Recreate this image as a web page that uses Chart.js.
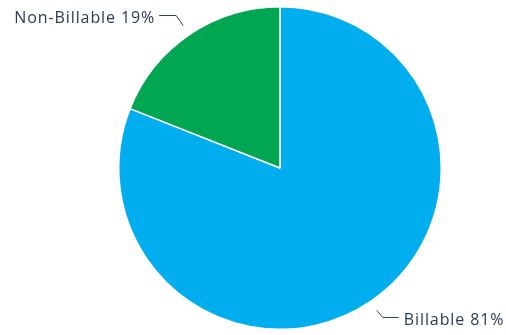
<!DOCTYPE html>
<html lang="en">
<head>
    <meta charset="UTF-8">
    <title>Billable vs Non-Billable</title>
    <script src="https://cdn.jsdelivr.net/npm/chart.js"></script>
    <style>
        body { margin: 0; background: #fff; }
        #wrap { width: 506px; height: 335px; position: relative; }
    </style>
</head>
<body>
    <div id="wrap"><canvas id="pieChart"></canvas></div>
    <script>
        const categories = ['Billable', 'Non-Billable'];
        const values = [81, 19];
        const colors = ['#00aeef', '#00a651'];

        // draws "Name NN%" with a bent leader line next to each slice
        const calloutLabels = {
            id: 'calloutLabels',
            afterDraw(chart) {
                const ctx = chart.ctx;
                const arcs = chart.getDatasetMeta(0).data;
                ctx.save();
                ctx.font = '16px "Open Sans", sans-serif';
                ctx.letterSpacing = '0.9px';
                ctx.fillStyle = '#2b3a57';
                ctx.strokeStyle = '#2b3a57';
                ctx.lineWidth = 1;
                ctx.textBaseline = 'middle';
                arcs.forEach((arc, i) => {
                    const mid = (arc.startAngle + arc.endAngle) / 2;
                    const r = arc.outerRadius + 11;
                    const x0 = arc.x + Math.cos(mid) * r;
                    const y0 = arc.y + Math.sin(mid) * r;
                    const right = Math.cos(mid) >= 0;
                    const up = Math.sin(mid) < 0;
                    const x1 = x0 + (right ? 6 : -7);
                    const y1 = y0 + (up ? -10 : 7);
                    const x2 = x1 + (right ? 16 : -17);
                    ctx.beginPath();
                    ctx.moveTo(x0, y0);
                    ctx.lineTo(x1, y1);
                    ctx.lineTo(x2, y1);
                    ctx.stroke();
                    ctx.textAlign = right ? 'left' : 'right';
                    const text = categories[i] + ' ' + values[i] + '%';
                    ctx.fillText(text, x2 + (right ? 5 : -4), y1 + 3);
                });
                ctx.restore();
            }
        };

        new Chart(document.getElementById('pieChart'), {
            type: 'pie',
            data: {
                labels: categories,
                datasets: [{
                    data: values,
                    backgroundColor: colors,
                    borderColor: '#ffffff',
                    borderWidth: 1.5
                }]
            },
            options: {
                responsive: true,
                maintainAspectRatio: false,
                animation: false,
                layout: { padding: { top: 6, bottom: 5, left: 118, right: 64 } },
                plugins: {
                    legend: { display: false },
                    tooltip: { enabled: false }
                }
            },
            plugins: [calloutLabels]
        });
    </script>
</body>
</html>
